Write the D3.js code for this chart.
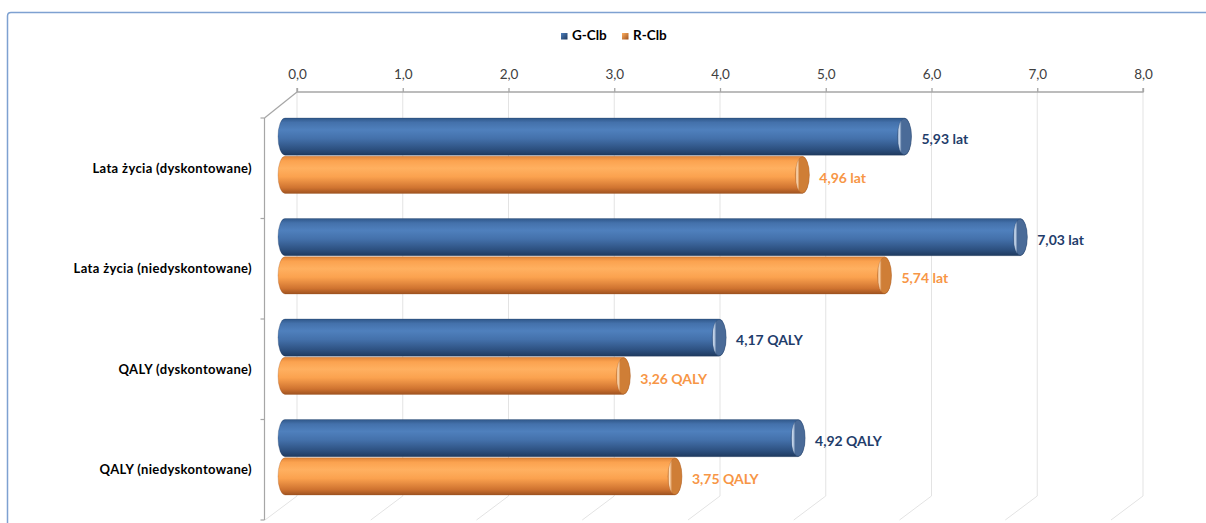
<!DOCTYPE html>
<html>
<head>
<meta charset="utf-8">
<script src="https://cdn.jsdelivr.net/npm/d3@7"></script>
<style>
  html, body { margin: 0; padding: 0; background: #fff; }
  svg { display: block; }
  text { font-family: Lato, "Open Sans", "Liberation Sans", sans-serif; }
</style>
</head>
<body>
<svg id="chart" width="1206" height="523"></svg>
<script>
// Categories (top to bottom) and series values
const categories = [
  "Lata życia (dyskontowane)",
  "Lata życia (niedyskontowane)",
  "QALY (dyskontowane)",
  "QALY (niedyskontowane)"
];
const seriesNames = ["G-Clb", "R-Clb"];
const gClb = [5.93, 7.03, 4.17, 4.92];
const rClb = [4.96, 5.74, 3.26, 3.75];
const units = ["lat", "lat", "QALY", "QALY"];
const tickValues = [0, 1, 2, 3, 4, 5, 6, 7, 8];

const seriesValues = [gClb, rClb];
const palette = {
  "G-Clb": { top: "#2f5789", hi: "#4f80bd", mid: "#4471ab", low: "#2c4f7e", edge: "#1f3a5f", cap: "#4a6b98", capHi: "#d8e6f7", label: "#1f3d6b" },
  "R-Clb": { top: "#e0863a", hi: "#ffb060", mid: "#fba24f", low: "#cf7330", edge: "#9e5220", cap: "#cf7e36", capHi: "#ffe0bf", label: "#f79646" }
};

const svg = d3.select("#chart");
const fmt = v => v.toFixed(2).replace(".", ",");

// Outer chart border
svg.append("path")
  .attr("d", "M7.5,530 L7.5,16 Q7.5,12.5 11,12.5 L1215,12.5")
  .attr("fill", "none")
  .attr("stroke", "#7ea1d1")
  .attr("stroke-width", 1.5);

// 3D geometry: back wall scale and front (bar) plane scale
const depthDx = -32, depthDy = 26;
const wallTop = 92, wallBottom = 496;
const xBack = d3.scaleLinear().domain([0, 8]).range([297, 1143]);
const xFront = d3.scaleLinear().domain([0, 8]).range([280, 1122.4]);

const y = d3.scaleBand().domain(categories).range([118, 520]).paddingInner(0).paddingOuter(0);
const ySeries = d3.scaleBand().domain(seriesNames).range([0, 75.5]).paddingInner(0.03);

// Gridlines on the back wall and floor
const grid = svg.append("g");
tickValues.forEach(t => {
  const xb = xBack(t);
  grid.append("line")
    .attr("x1", xb).attr("x2", xb).attr("y1", wallTop).attr("y2", wallBottom)
    .attr("stroke", "#e3e3e3").attr("stroke-width", 1);
  grid.append("line")
    .attr("x1", xb).attr("y1", wallBottom)
    .attr("x2", xb + depthDx).attr("y2", wallBottom + depthDy - 2)
    .attr("stroke", "#e3e3e3").attr("stroke-width", 1);
});

// Top value axis
const axis = d3.axisTop(xBack)
  .tickValues(tickValues)
  .tickSize(4)
  .tickPadding(9)
  .tickFormat(d => d.toFixed(1).replace(".", ","));
const axG = svg.append("g").attr("transform", `translate(0,${wallTop})`).call(axis);
axG.select(".domain").attr("stroke", "#a6a6a6").attr("stroke-width", 1.3)
  .attr("d", `M${xBack(0)},-4V0H${xBack(8)}V-4`);
axG.selectAll(".tick line").attr("stroke", "#a6a6a6").attr("stroke-width", 1.3);
axG.selectAll(".tick text")
  .attr("fill", "#404040")
  .style("font-size", "13.5px")
  .style("font-family", "Lato, 'Open Sans', sans-serif");

// Depth edge and front category axis
const frontX = xBack(0) + depthDx - 0.5;
svg.append("line")
  .attr("x1", xBack(0)).attr("y1", wallTop)
  .attr("x2", frontX).attr("y2", y.range()[0])
  .attr("stroke", "#a6a6a6").attr("stroke-width", 1.2);
svg.append("line")
  .attr("x1", frontX).attr("x2", frontX)
  .attr("y1", y.range()[0]).attr("y2", y.range()[1])
  .attr("stroke", "#a6a6a6").attr("stroke-width", 1.2);
const catTicks = categories.map(c => y(c)).concat([y.range()[1]]);
catTicks.forEach(ty => {
  svg.append("line")
    .attr("x1", frontX - 4).attr("x2", frontX)
    .attr("y1", ty).attr("y2", ty)
    .attr("stroke", "#a6a6a6").attr("stroke-width", 1.2);
});

// Category labels
svg.append("g").selectAll("text")
  .data(categories)
  .join("text")
  .attr("x", 252)
  .attr("y", d => y(d) + y.bandwidth() / 2 + 1)
  .attr("text-anchor", "end")
  .attr("dominant-baseline", "middle")
  .attr("fill", "#000")
  .style("font-size", "13px")
  .style("letter-spacing", "0.35px")
  .style("font-weight", "700")
  .text(d => d);

// Gradients for the cylinders
const defs = svg.append("defs");
seriesNames.forEach((s, i) => {
  const p = palette[s];
  const g = defs.append("linearGradient").attr("id", "cyl" + i)
    .attr("x1", 0).attr("x2", 0).attr("y1", 0).attr("y2", 1);
  [[0, p.top], [0.12, p.mid], [0.32, p.hi], [0.55, p.mid], [0.85, p.low], [1, p.edge]]
    .forEach(([o, c]) => g.append("stop").attr("offset", o).attr("stop-color", c));
  const cg = defs.append("linearGradient").attr("id", "cap" + i)
    .attr("x1", 0).attr("x2", 1).attr("y1", 0).attr("y2", 0);
  [[0, p.cap], [0.12, p.capHi], [0.3, p.cap], [1, p.cap]]
    .forEach(([o, c]) => cg.append("stop").attr("offset", o).attr("stop-color", c));
  const lg = defs.append("linearGradient").attr("id", "leg" + i)
    .attr("x1", 0).attr("x2", 1).attr("y1", 0).attr("y2", 1);
  [[0, p.hi], [1, p.edge]]
    .forEach(([o, c]) => lg.append("stop").attr("offset", o).attr("stop-color", c));
});

// Cylinder bars
const rx = 7;
const bars = svg.append("g");
categories.forEach((cat, ci) => {
  seriesNames.forEach((s, si) => {
    const v = seriesValues[si][ci];
    const top = y(cat) + ySeries(s);
    const h = ySeries.bandwidth();
    const ry = h / 2;
    const xl = xFront(0) + 5;
    const xr = xFront(v);
    const g = bars.append("g");
    // body with rounded back end and rounded front end
    g.append("path")
      .attr("d", `M${xl},${top} L${xr},${top} A${rx},${ry} 0 0 1 ${xr},${top + h} L${xl},${top + h} A${rx},${ry} 0 0 1 ${xl},${top} Z`)
      .attr("fill", `url(#cyl${si})`)
      .attr("stroke", palette[s].edge)
      .attr("stroke-opacity", 0.35)
      .attr("stroke-width", 0.8);
    // end cap
    g.append("ellipse")
      .attr("cx", xr).attr("cy", top + ry)
      .attr("rx", rx).attr("ry", ry - 0.5)
      .attr("fill", `url(#cap${si})`)
      .attr("stroke", palette[s].edge)
      .attr("stroke-opacity", 0.35)
      .attr("stroke-width", 0.8);
    // value label
    svg.append("text")
      .attr("x", xr + rx + 10)
      .attr("y", top + ry + 4)
      .attr("dominant-baseline", "middle")
      .attr("fill", palette[s].label)
      .style("font-size", "14px")
      .style("font-weight", "700")
      .text(`${fmt(v)} ${units[ci]}`);
  });
});

// Legend
const legend = svg.append("g");
const legendX = [561, 622];
seriesNames.forEach((s, i) => {
  legend.append("rect")
    .attr("x", legendX[i]).attr("y", 33)
    .attr("width", 6.5).attr("height", 6.5)
    .attr("fill", `url(#leg${i})`);
  legend.append("text")
    .attr("x", legendX[i] + 11)
    .attr("y", 37)
    .attr("dominant-baseline", "middle")
    .attr("fill", "#000")
    .style("font-size", "13.5px")
    .style("font-weight", "700")
    .text(s);
});
</script>
</body>
</html>
